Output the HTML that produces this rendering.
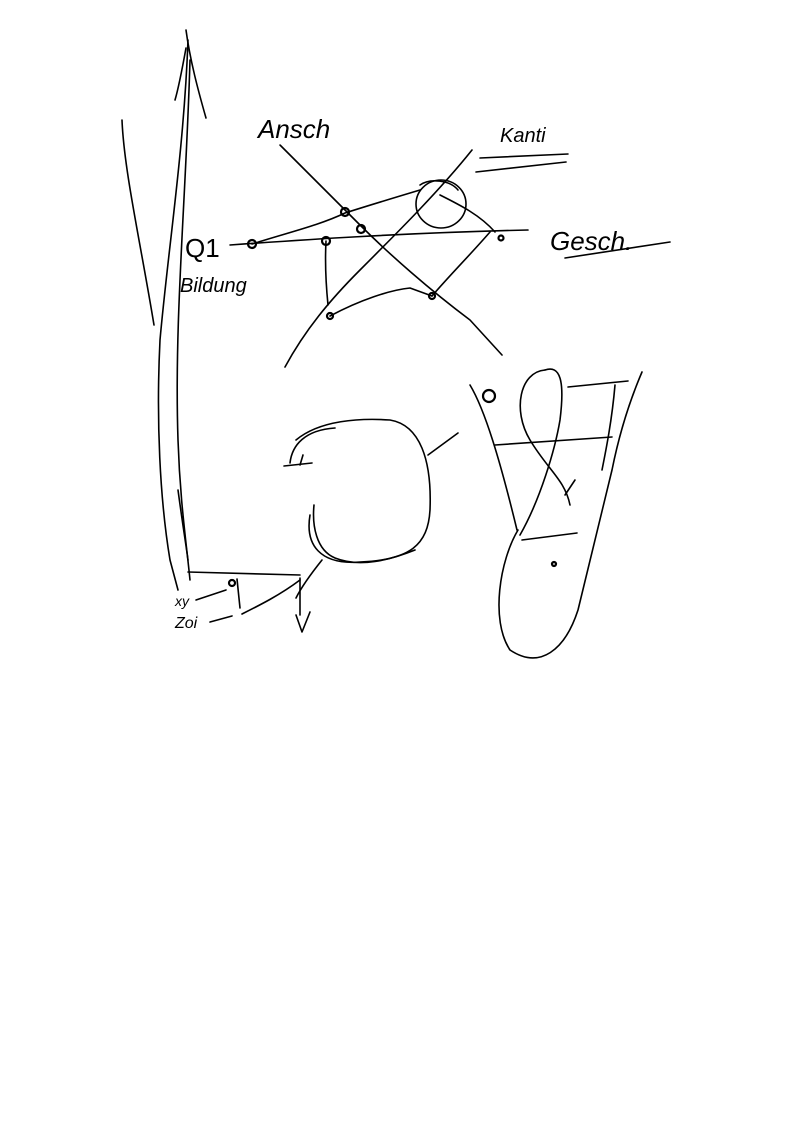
<!DOCTYPE html>
<html><head><meta charset="utf-8"><style>
html,body{margin:0;padding:0;background:#fff;}
svg{display:block;}
text{font-family:"Liberation Sans",sans-serif;fill:#000;}
</style></head><body>
<svg width="794" height="1123" viewBox="0 0 794 1123" fill="none" stroke="#000" stroke-width="1.6" stroke-linecap="round" stroke-linejoin="round">
<g>
<path d="M188 40 C184 150,168 250,160 340 C156 420,160 500,170 560 L178 590"/>
<path d="M186 30 C190 60,198 90,206 118"/>
<path d="M186 48 C182 70,178 90,175 100"/>
<path d="M190 60 C186 200,174 320,178 440 C180 500,186 540,190 580"/>
<path d="M122 120 C124 170,140 240,154 325"/>
<path d="M178 490 C182 520,186 545,188 560"/>
</g>
<g>
<path d="M280 145 C310 175,340 205,360 225 C390 255,430 290,470 320 L502 355"/>
<path d="M472 150 C440 190,400 230,360 270 C330 300,305 330,285 367"/>
<path d="M230 245 C300 240,400 233,528 230"/>
<path d="M252 244 C290 232,320 225,345 213 C370 205,400 196,420 190"/>
<path d="M326 241 C325 260,326 285,328 305"/>
<path d="M330 316 C360 300,390 290,410 288 L432 296"/>
<path d="M432 296 C450 275,470 255,490 232"/>
<path d="M440 195 C460 205,480 215,495 232"/>
<ellipse cx="441" cy="204" rx="25" ry="24"/>
<path d="M420 185 C430 178,450 180,458 190"/>
</g>
<g stroke-width="2.2">
<circle cx="252" cy="244" r="4"/><circle cx="345" cy="212" r="4"/>
<circle cx="361" cy="229" r="4"/><circle cx="326" cy="241" r="4"/>
<circle cx="432" cy="296" r="3"/><circle cx="330" cy="316" r="3"/>
<circle cx="501" cy="238" r="2.5"/><circle cx="489" cy="396" r="6"/>
<circle cx="232" cy="583" r="3"/><circle cx="554" cy="564" r="2"/>
</g>
<g stroke="none">
<text x="258" y="138" font-size="26" font-style="italic">Ansch</text>
<text x="500" y="142" font-size="20" font-style="italic">Kanti</text>
<text x="550" y="250" font-size="26" font-style="italic">Gesch.</text>
<text x="185" y="257" font-size="26">Q1</text>
<text x="180" y="292" font-size="20" font-style="italic">Bildung</text>
<text x="175" y="606" font-size="14" font-style="italic">xy</text>
<text x="175" y="628" font-size="16" font-style="italic">Zoi</text>
</g>
<g>
<path d="M480 158 L568 154"/><path d="M476 172 L566 162"/>
<path d="M565 258 L670 242"/>
</g>
<g>
<path d="M296 440 C320 420,360 418,390 420 C420 425,432 460,430 510 C428 545,410 560,360 562 C320 565,305 545,310 515"/>
<path d="M290 463 C292 445,305 430,335 428"/>
<path d="M284 466 L312 463"/><path d="M303 455 L300 465"/>
<path d="M314 505 C312 525,316 550,335 558 C360 568,390 560,415 550"/>
<path d="M428 455 L458 433"/>
</g>
<g>
<path d="M470 385 C485 410,500 460,517 530"/>
<path d="M518 530 C500 560,490 620,510 650 C540 670,565 650,578 610 C588 570,600 520,612 470 C620 430,630 400,642 372"/>
<path d="M545 370 C560 365,565 380,560 420 C555 450,540 500,520 535"/>
<path d="M545 370 C520 372,512 410,530 440 C548 470,565 480,570 505"/>
<path d="M565 495 L575 480"/>
<path d="M568 387 L628 381"/><path d="M615 385 C612 420,606 450,602 470"/>
<path d="M495 445 L612 437"/>
<path d="M522 540 L577 533"/>
</g>
<g>
<path d="M188 572 L300 575"/>
<path d="M300 578 L300 615"/><path d="M296 615 L302 632 L310 612"/>
<path d="M322 560 C310 575,300 590,296 598"/>
<path d="M242 614 C260 605,280 595,300 580"/>
<path d="M237 579 L240 608"/>
<path d="M196 600 L226 590"/>
<path d="M210 622 L232 616"/>
</g>
</svg>
</body></html>
